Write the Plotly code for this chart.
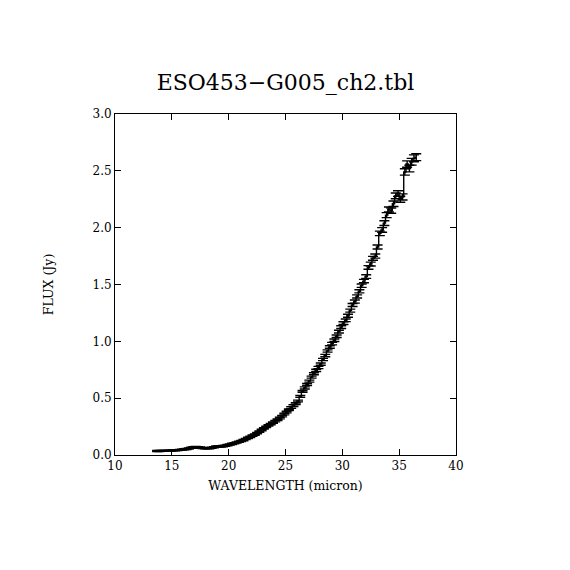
import plotly.graph_objects as go

# Spectrum
wavelength = [
    13.7, 13.9, 14.1, 14.3, 14.5, 14.7, 14.9, 15.1, 15.3, 15.5,
    15.7, 15.9, 16.1, 16.3, 16.5, 16.7, 16.9, 17.1, 17.3, 17.5,
    17.7, 17.9, 18.1, 18.3, 18.5, 18.7, 18.9, 19.1, 19.3, 19.5,
    19.7, 19.9, 20.1, 20.3, 20.5, 20.7, 20.9, 21.1, 21.3, 21.5,
    21.7, 21.9, 22.1, 22.3, 22.5, 22.7, 22.9, 23.1, 23.3, 23.5,
    23.7, 23.9, 24.1, 24.3, 24.5, 24.7, 24.9, 25.1, 25.3, 25.5,
    25.7, 25.9, 26.1, 26.3, 26.5, 26.7, 26.9, 27.1, 27.3, 27.5,
    27.7, 27.9, 28.1, 28.3, 28.5, 28.7, 28.9, 29.1, 29.3, 29.5,
    29.7, 29.9, 30.1, 30.3, 30.5, 30.7, 30.9, 31.1, 31.3, 31.5,
    31.7, 31.9, 32.1, 32.3, 32.5, 32.7, 32.9, 33.1, 33.3, 33.5,
    33.7, 33.9, 34.1, 34.3, 34.5, 34.7, 34.9, 35.1, 35.3, 35.5,
    35.7, 35.9, 36.1, 36.3, 36.5,
]
flux = [
    0.035, 0.035, 0.036, 0.036, 0.037, 0.038, 0.038, 0.040, 0.041, 0.043,
    0.045, 0.047, 0.050, 0.053, 0.057, 0.063, 0.068, 0.070, 0.068, 0.065,
    0.062, 0.060, 0.059, 0.060, 0.063, 0.068, 0.074, 0.076, 0.075, 0.078,
    0.082, 0.087, 0.092, 0.098, 0.104, 0.110, 0.116, 0.123, 0.131, 0.140,
    0.150, 0.160, 0.170, 0.180, 0.192, 0.205, 0.220, 0.235, 0.248, 0.260,
    0.272, 0.285, 0.298, 0.310, 0.325, 0.342, 0.360, 0.378, 0.398, 0.418,
    0.435, 0.452, 0.475, 0.515, 0.560, 0.590, 0.620, 0.650, 0.685, 0.715,
    0.745, 0.770, 0.800, 0.840, 0.875, 0.915, 0.950, 0.980, 1.010, 1.045,
    1.085, 1.125, 1.160, 1.185, 1.225, 1.270, 1.320, 1.350, 1.395, 1.440,
    1.490, 1.530, 1.570, 1.650, 1.680, 1.730, 1.750, 1.830, 1.950, 1.980,
    2.040, 2.110, 2.160, 2.150, 2.210, 2.280, 2.300, 2.250, 2.270, 2.490,
    2.560, 2.520, 2.580, 2.610, 2.620,
]
flux_err = [
    0.004, 0.004, 0.004, 0.004, 0.004, 0.004, 0.004, 0.004, 0.004, 0.004,
    0.004, 0.004, 0.005, 0.005, 0.005, 0.005, 0.005, 0.005, 0.005, 0.005,
    0.005, 0.005, 0.005, 0.005, 0.005, 0.005, 0.005, 0.005, 0.005, 0.005,
    0.005, 0.005, 0.005, 0.005, 0.005, 0.005, 0.005, 0.005, 0.005, 0.005,
    0.006, 0.006, 0.006, 0.006, 0.006, 0.006, 0.006, 0.006, 0.006, 0.006,
    0.006, 0.006, 0.007, 0.007, 0.007, 0.007, 0.007, 0.007, 0.007, 0.008,
    0.008, 0.008, 0.008, 0.008, 0.008, 0.009, 0.009, 0.009, 0.009, 0.009,
    0.010, 0.010, 0.010, 0.010, 0.010, 0.010, 0.011, 0.011, 0.011, 0.011,
    0.012, 0.012, 0.012, 0.012, 0.013, 0.013, 0.013, 0.014, 0.014, 0.014,
    0.015, 0.015, 0.016, 0.016, 0.017, 0.017, 0.018, 0.018, 0.020, 0.020,
    0.021, 0.022, 0.022, 0.023, 0.024, 0.025, 0.025, 0.026, 0.027, 0.028,
    0.028, 0.029, 0.030, 0.030, 0.030,
]

x_ticks = [10, 15, 20, 25, 30, 35, 40]
y_ticks = [0.0, 0.5, 1.0, 1.5, 2.0, 2.5, 3.0]

serif = "DejaVu Serif"

fig = go.Figure(go.Scatter(
    x=wavelength,
    y=flux,
    mode="lines",
    line=dict(color="black", width=1.4, shape="hvh"),
    error_y=dict(type="data", array=flux_err, visible=True,
                 color="black", thickness=1.4, width=5),
    showlegend=False,
))

axis_style = dict(
    showline=True, linecolor="black", linewidth=1, mirror="ticks",
    ticks="inside", ticklen=6, tickcolor="black", tickwidth=1,
    showgrid=False, zeroline=False,
    tickfont=dict(family=serif, size=12, color="black"),
)

fig.update_xaxes(
    range=[10, 40], tickvals=x_ticks, ticktext=[str(v) for v in x_ticks],
    title=dict(text="WAVELENGTH (micron)", standoff=8,
               font=dict(family=serif, size=12.5, color="black")),
    **axis_style,
)
fig.update_yaxes(
    range=[0, 3], tickvals=y_ticks, ticktext=[f"{v:.1f}" for v in y_ticks],
    title=dict(text="FLUX (Jy)", standoff=36,
               font=dict(family=serif, size=12.5, color="black")),
    **axis_style,
)

fig.update_layout(
    width=570, height=570,
    margin=dict(l=107, r=122, t=106, b=123),
    paper_bgcolor="white", plot_bgcolor="white",
    title=dict(text="ESO453\u2212G005_ch2.tbl", x=0.5, xanchor="center",
               y=0.870, yanchor="middle", xref="paper",
               font=dict(family=serif, size=22, color="black")),
)

fig.write_html("out.html")
